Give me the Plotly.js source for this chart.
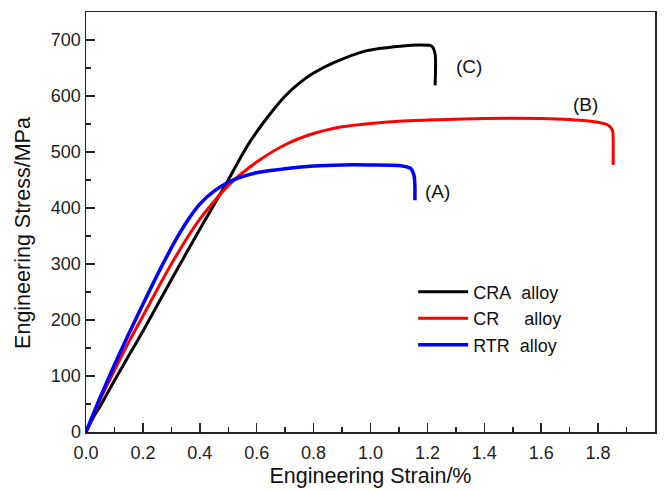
<!DOCTYPE html>
<html>
<head>
<meta charset="utf-8">
<script src="https://cdn.plot.ly/plotly-3.0.1.min.js"></script>
<style>html,body{margin:0;padding:0;background:#fff}#chart{width:666px;height:491px}</style>
</head>
<body>
<div id="chart"></div>
<script>
// CRA alloy (curve C)
var craStrain = [0, 0.03, 0.05, 0.1, 0.15, 0.2, 0.3, 0.4, 0.5, 0.54, 0.576, 0.62, 0.658, 0.7, 0.752, 0.8, 0.869, 0.987, 1.104, 1.174, 1.215, 1.227, 1.227];
var craStress = [0, 30, 46, 92, 136, 180, 272, 362, 450, 487, 518, 550, 575, 600, 624, 641, 659, 681, 689, 691, 689, 675, 619];
// CR alloy (curve B)
var crStrain = [0, 0.05, 0.1, 0.15, 0.2, 0.3, 0.4, 0.5, 0.6, 0.7, 0.8, 0.9, 1.0, 1.1, 1.2, 1.4, 1.6, 1.7, 1.8, 1.838, 1.851, 1.853, 1.853];
var crStress = [0, 58, 110, 160, 207, 300, 380, 440, 482, 513, 533, 545, 551, 555, 557, 560, 560, 558, 553, 547, 538, 520, 477];
// RTR alloy (curve A)
var rtrStrain = [0, 0.05, 0.1, 0.15, 0.2, 0.26, 0.32, 0.36, 0.4, 0.45, 0.5, 0.55, 0.6, 0.7, 0.8, 0.9, 1.0, 1.1, 1.14, 1.153, 1.156, 1.156];
var rtrStress = [0, 62, 120, 175, 228, 290, 347, 380, 407, 430, 446, 456, 463, 470, 475, 477, 477, 476, 471, 458, 440, 414];

var seriesNames = ["CRA\u00a0\u00a0alloy", "CR\u00a0\u00a0\u00a0\u00a0\u00a0alloy", "RTR\u00a0\u00a0alloy"];
var curveLabels = ["(C)", "(B)", "(A)"];
var xTickVals = [0, 0.2, 0.4, 0.6, 0.8, 1.0, 1.2, 1.4, 1.6, 1.8, 2.0];
var xTickText = ["0.0", "0.2", "0.4", "0.6", "0.8", "1.0", "1.2", "1.4", "1.6", "1.8", "2.0"];
var yTickVals = [0, 100, 200, 300, 400, 500, 600, 700];
var xTitle = "Engineering Strain/%";
var yTitle = "Engineering Stress/MPa";

var font = "Liberation Sans, Arial, sans-serif";
function lineOf(color, w) { return {color: color, width: w, shape: "spline", smoothing: 0.7}; }
var traces = [
  {x: craStrain, y: craStress, name: seriesNames[0], mode: "lines", line: lineOf("#000000", 3)},
  {x: crStrain, y: crStress, name: seriesNames[1], mode: "lines", line: lineOf("#ff0000", 3)},
  {x: rtrStrain, y: rtrStress, name: seriesNames[2], mode: "lines", line: lineOf("#0000ff", 3.5)}
];

var axisCommon = {
  showgrid: false, zeroline: false, showline: true, linecolor: "#222", linewidth: 1.5,
  mirror: true, ticks: "inside", ticklen: 9, tickwidth: 1.5, tickcolor: "#222",
  tickfont: {family: font, size: 18, color: "#222"}
};

var layout = {
  width: 666, height: 491,
  margin: {l: 86, r: 11, t: 12, b: 59},
  paper_bgcolor: "#fff", plot_bgcolor: "#fff",
  font: {family: font, color: "#222"},
  showlegend: true,
  legend: {x: 0.575, y: 0.377, xanchor: "left", yanchor: "top", bgcolor: "rgba(0,0,0,0)",
           font: {family: font, size: 18, color: "#111"}, itemwidth: 50, tracegroupgap: 0},
  xaxis: Object.assign({}, axisCommon, {
    range: [0, 2.0], tickvals: xTickVals, ticktext: xTickText, ticklabelstandoff: 4,
    minor: {dtick: 0.1, ticks: "inside", ticklen: 5, tickwidth: 1.5, tickcolor: "#222"},
    title: {text: xTitle, font: {family: font, size: 21.5, color: "#111"}, standoff: 6}
  }),
  yaxis: Object.assign({}, axisCommon, {
    range: [0, 750], tickvals: yTickVals,
    minor: {dtick: 50, ticks: "inside", ticklen: 5, tickwidth: 1.5, tickcolor: "#222"}
  }),
  annotations: [
    {x: 0, y: 0.474, xref: "paper", yref: "paper", xanchor: "center", yanchor: "middle", xshift: -63,
     text: yTitle, textangle: -90, showarrow: false, font: {family: font, size: 21.5, color: "#111"}},
    {x: 1.346, y: 652, xref: "x", yref: "y", text: curveLabels[0], showarrow: false, font: {family: font, size: 19, color: "#111"}},
    {x: 1.757, y: 585, xref: "x", yref: "y", text: curveLabels[1], showarrow: false, font: {family: font, size: 19, color: "#111"}},
    {x: 1.237, y: 429, xref: "x", yref: "y", text: curveLabels[2], showarrow: false, font: {family: font, size: 19, color: "#111"}}
  ]
};

Plotly.newPlot("chart", traces, layout, {staticPlot: true, displayModeBar: false});
</script>
</body>
</html>
